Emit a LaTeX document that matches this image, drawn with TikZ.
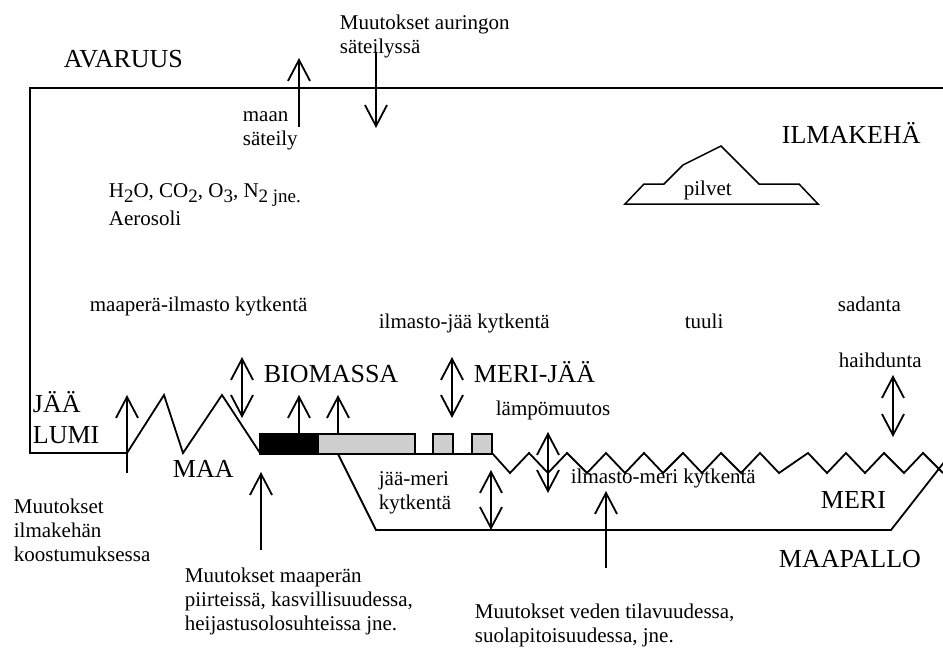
\documentclass[tikz,border=0pt]{standalone}
\usepackage{fontspec}
\setmainfont{Liberation Serif}
\usetikzlibrary{arrows.meta}
% stacked lines whose reference point is the first baseline
\newcommand\stk[1]{\begin{tabular}[t]{@{}l@{}}#1\end{tabular}}
% lowered, smaller text for chemical indices
\newcommand\sbs[1]{\raisebox{-5pt}{\fontsize{19}{22}\selectfont #1}}
\begin{document}
\begin{tikzpicture}[x=1pt,y=-1pt,line width=1.8pt,line join=miter,
  small/.style={font=\fontsize{21}{24}\selectfont,inner sep=0pt,anchor=base west},
  big/.style={font=\fontsize{26}{30}\selectfont,inner sep=0pt,anchor=base west},
  barb/.tip={Straight Barb[length=21pt,width=22pt]},
  uparr/.style={-barb},
  dblarr/.style={barb-barb},
  boxline/.style={line width=1.3pt},
  icefill/.style={fill=black!19}]

\fill[white] (0,0) rectangle (943,648);
\useasboundingbox (0,0) rectangle (943,648);

% ---------- atmosphere frame and land surface ----------
\coordinate (frameTR) at (943,88);
\coordinate (frameTL) at (30,88);
\coordinate (frameBL) at (30,453);
\coordinate (landA) at (127,453);
\coordinate (landB) at (260,453);
\draw (frameTR) -- (frameTL) -- (frameBL) -- (landA);
\draw (landA) -- (164,395) -- (183,453) -- (222,395) -- (landB);

% ---------- biomass and sea-ice blocks ----------
\draw[boxline,fill=black] (260,434) rectangle (318,454);
\draw[boxline,icefill] (318,434) rectangle (415,454);
\draw[boxline] (415,454) -- (433,454);
\draw[boxline,icefill] (433,434) rectangle (453,454);
\draw[boxline] (453,454) -- (472,454);
\draw[boxline,icefill] (472,434) rectangle (492,454);

% ---------- sea surface ----------
\draw (492,453) -- (510,473) -- (529,453) -- (548,473) -- (567,453)
  -- (587,473) -- (606,453) -- (625,473) -- (644,453) -- (663,473)
  -- (683,453) -- (702,473) -- (721,453) -- (741,473) -- (760,453)
  -- (779,473) -- (808,453) -- (827,473) -- (846,453) -- (865,473)
  -- (884,453) -- (904,473) -- (923,453) -- (943,473);

% ---------- ocean basin ----------
\draw (338,454) -- (376,530) -- (891,530) -- (945,461);

% ---------- clouds ----------
\draw[line width=1.5pt] (625,204) -- (644,184) -- (664,184) -- (683,165)
  -- (721,146) -- (759,184) -- (799,184) -- (818,204) -- cycle;

% ---------- arrow end points ----------
\coordinate (radB) at (299,127);   \coordinate (radT) at (299,58);
\coordinate (sunT) at (376,52);    \coordinate (sunB) at (376,128);
\coordinate (snowB) at (127,473);  \coordinate (snowT) at (127,395);
\coordinate (soilT) at (242,357);  \coordinate (soilB) at (242,418);
\coordinate (bioAB) at (299,434);  \coordinate (bioAT) at (299,395);
\coordinate (bioBB) at (338,434);  \coordinate (bioBT) at (338,395);
\coordinate (iceT) at (452,357);   \coordinate (iceB) at (452,418);
\coordinate (heatT) at (548,432);  \coordinate (heatB) at (548,493);
\coordinate (imT) at (491,470);    \coordinate (imB) at (491,530);
\coordinate (watB) at (606,568);   \coordinate (watT) at (606,491);
\coordinate (landcB) at (261,550); \coordinate (landcT) at (261,472);
\coordinate (evapT) at (893,375);  \coordinate (evapB) at (893,437);

\draw[uparr] (radB) -- (radT);
\draw[uparr] (sunT) -- (sunB);
\draw[uparr] (snowB) -- (snowT);
\draw[dblarr] (soilT) -- (soilB);
\draw[uparr] (bioAB) -- (bioAT);
\draw[uparr] (bioBB) -- (bioBT);
\draw[dblarr] (iceT) -- (iceB);
\draw[dblarr] (heatT) -- (heatB);
\draw[dblarr] (imT) -- (imB);
\draw[uparr] (watB) -- (watT);
\draw[uparr] (landcB) -- (landcT);
\draw[dblarr] (evapT) -- (evapB);

% ---------- labels ----------
\node[small] (sun) at (339,29) {\stk{Muutokset auringon\\säteilyssä}};
\node[big] (space) at (63,67) {AVARUUS};
\node[small] (rad) at (242,121) {\stk{maan\\säteily}};
\node[big] (atm) at (781,143) {ILMAKEHÄ};
\node[small] (cloud) at (683,195) {pilvet};
\node[small] (gases) at (108,197) {H\sbs{2}O, CO\sbs{2}, O\sbs{3}, N\sbs{2 jne.}};
\node[small] (aero) at (108,225) {Aerosoli};
\node[small] (soilcl) at (89,311) {maaperä-ilmasto kytkentä};
\node[small] (icecl) at (378,328) {ilmasto-jää kytkentä};
\node[small] (wind) at (684,328) {tuuli};
\node[small] (rain) at (837,311) {sadanta};
\node[small] (evap) at (838,367) {haihdunta};
\node[big] (bio) at (263,382) {BIOMASSA};
\node[big] (seaice) at (473,382) {MERI-JÄÄ};
\node[small] (heat) at (495,415) {lämpömuutos};
\node[big,font=\fontsize{26}{31}\selectfont] (snow) at (32,412) {\stk{JÄÄ\\LUMI}};
\node[big] (land) at (172,477) {MAA};
\node[small] (iceocean) at (378,485) {\stk{jää-meri\\kytkentä}};
\node[small] (ocl) at (570,483) {ilmasto-meri kytkentä};
\node[big] (sea) at (820,508) {MERI};
\node[big] (earth) at (778,567) {MAAPALLO};
\node[small] (comp) at (13,513) {\stk{Muutokset\\ilmakehän\\koostumuksessa}};
\node[small] (soilch) at (184,582) {\stk{Muutokset maaperän\\piirteissä, kasvillisuudessa,\\heijastusolosuhteissa jne.}};
\node[small] (watch) at (474,618) {\stk{Muutokset veden tilavuudessa,\\suolapitoisuudessa, jne.}};
\end{tikzpicture}
\end{document}
